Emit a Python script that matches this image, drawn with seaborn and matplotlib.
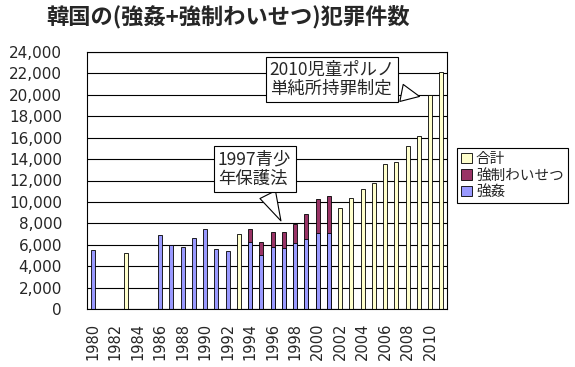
import numpy as np
import pandas as pd
import matplotlib
matplotlib.use("Agg")
import matplotlib.pyplot as plt
from matplotlib.patches import Patch
import seaborn as sns

# ---- data ----
years = list(range(1980, 2012))
rape = [5520, np.nan, np.nan, np.nan, np.nan, np.nan, 6880, 5980, 5830, 6600,
        7440, 5580, 5400, np.nan, 6230, 5020, 5770, 5670, 6140, 6510,
        7070, 7070, np.nan, np.nan, np.nan, np.nan, np.nan, np.nan, np.nan, np.nan,
        np.nan, np.nan]
indecency = [np.nan] * 14 + [1210, 1210, 1390, 1490, 1760, 2330, 3160, 3440] + [np.nan] * 10
total = [np.nan, np.nan, np.nan, 5270, np.nan, np.nan, np.nan, np.nan, np.nan, np.nan,
         np.nan, np.nan, np.nan, 7040, np.nan, np.nan, np.nan, np.nan, np.nan, np.nan,
         np.nan, np.nan, 9460, 10390, 11160, 11790, 13580, 13700, 15190, 16190,
         20000, 22110]
yticks = list(range(0, 24001, 2000))
series_names = ["合計", "強制わいせつ", "強姦"]
title = "韓国の(強姦+強制わいせつ)犯罪件数"

c_total = "#FFFFCC"
c_ind = "#993366"
c_rape = "#9999FF"

sns.set_style("white")
plt.rcParams["font.family"] = ["Noto Sans CJK JP", "DejaVu Sans"]

labels = [str(y) for y in years]
df = pd.DataFrame({"year": labels, "rape": rape, "indecency": indecency, "total": total})
df["stacktop"] = df["rape"] + df["indecency"]

fig = plt.figure(figsize=(5.75, 3.67), dpi=100)
ax = fig.add_axes([87 / 575, 1 - 309 / 367, 360 / 575, 257 / 367])

common = dict(order=labels, width=0.35, edgecolor="black", linewidth=0.6,
              saturation=1, errorbar=None, ax=ax)
sns.barplot(data=df, x="year", y="stacktop", color=c_ind, **common)
sns.barplot(data=df, x="year", y="rape", color=c_rape, **common)
sns.barplot(data=df, x="year", y="total", color=c_total, **common)

ax.set_xlim(-0.5, len(years) - 0.5)
ax.set_ylim(0, 24000)
ax.set_xlabel("")
ax.set_ylabel("")
ax.set_yticks(yticks)
ax.set_yticklabels([f"{v:,}" for v in yticks], fontsize=11, family="DejaVu Sans")
ax.set_xticks(range(0, len(years), 2))
ax.set_xticklabels(labels[::2], rotation=90, fontsize=10.5, family="DejaVu Sans")
ax.set_xticks(np.arange(-0.5, len(years), 1), minor=True)
ax.tick_params(axis="x", which="major", length=0, pad=10)
ax.tick_params(axis="x", which="minor", direction="in", length=3, width=0.8, color="black")
ax.tick_params(axis="y", length=0, pad=18)
ax.yaxis.grid(True, color="black", linewidth=0.8)
ax.set_axisbelow(True)
for s in ax.spines.values():
    s.set_visible(True)
    s.set_color("black")
    s.set_linewidth(0.8)

# annotations
ax.annotate("1997青少\n年保護法", xy=(16.85, 8000), xytext=(14.4, 13100),
            ha="center", va="center", multialignment="left", fontsize=12.5, linespacing=1.1,
            bbox=dict(boxstyle="square,pad=0.25", fc="white", ec="black", lw=0.8),
            arrowprops=dict(arrowstyle="wedge,tail_width=1.0,shrink_factor=0.5",
                            fc="white", ec="black", lw=0.8))
ax.annotate("2010児童ポルノ\n単純所持罪制定", xy=(29.3, 19800), xytext=(21.3, 21440),
            ha="center", va="center", multialignment="left", fontsize=12.5, linespacing=1.1,
            bbox=dict(boxstyle="square,pad=0.2", fc="white", ec="black", lw=0.8),
            arrowprops=dict(arrowstyle="wedge,tail_width=1.0,shrink_factor=0.5",
                            fc="white", ec="black", lw=0.8))

handles = [Patch(facecolor=c, edgecolor="black", linewidth=0.6) for c in (c_total, c_ind, c_rape)]
leg = fig.legend(handles, series_names, loc="upper left",
                 bbox_to_anchor=(457 / 575, 1 - 148 / 367), frameon=True, fancybox=False,
                 edgecolor="black", framealpha=1, fontsize=10.5, handlelength=0.7,
                 handleheight=0.7, handletextpad=0.3, borderpad=0.3, labelspacing=0.15,
                 borderaxespad=0)
leg.get_frame().set_linewidth(0.8)

fig.text(228 / 575, 1 - 17 / 367, title, ha="center", va="center",
         fontsize=16, fontweight="bold")

fig.savefig("out.png", dpi=100)
